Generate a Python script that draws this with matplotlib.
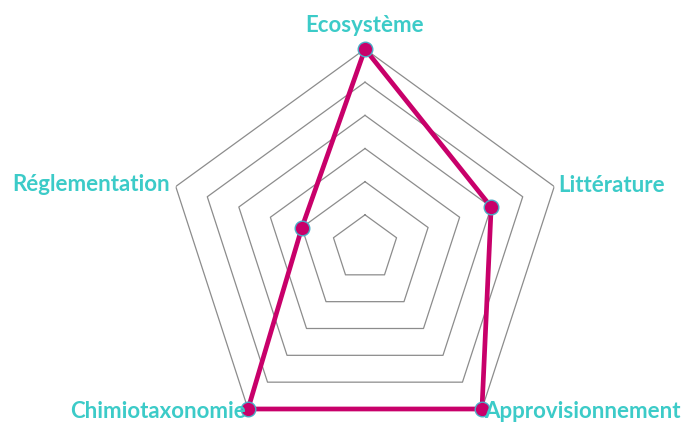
import numpy as np
import matplotlib
matplotlib.use("Agg")
import matplotlib.pyplot as plt

categories = ["Ecosystème", "Littérature", "Approvisionnement", "Chimiotaxonomie", "Réglementation"]
scores = [6, 4, 6, 6, 2]
levels = [1, 2, 3, 4, 5, 6]

# label placement: (radius, horizontal alignment) per category
label_r = [6.72, 6.12, 6.11, 6.1, 6.18]
label_ha = ["center", "left", "left", "right", "right"]

line_col = "#C8006A"
text_col = "#3CCBC8"
grid_col = "#8C8C8C"


def main():
    plt.rcParams['font.family'] = ['Lato', 'DejaVu Sans']
    fig = plt.figure(figsize=(6.82, 4.24), dpi=100)

    # centre at (365, 248) px, outer ring radius 199 px
    cx, cy, R = 365, 248, 199
    W, H = 682, 424
    ax = fig.add_axes([(cx - R) / W, (H - cy - R) / H, 2 * R / W, 2 * R / H],
                      projection='polar')

    n = len(categories)
    theta = np.pi / 2 - np.arange(n) * 2 * np.pi / n
    theta_c = np.append(theta, theta[0])

    # pentagon grid
    for lv in levels:
        ax.plot(theta_c, [lv] * (n + 1), color=grid_col, lw=0.9, zorder=1)

    vals = np.append(scores, scores[0])
    ax.plot(theta_c, vals, color=line_col, lw=3.4, zorder=3, solid_joinstyle='miter')
    ax.plot(theta, scores, 'o', color=line_col, markersize=10.5,
            markeredgecolor='#4BACC6', markeredgewidth=1.0, zorder=4, clip_on=False)

    for t, lab, r, ha in zip(theta, categories, label_r, label_ha):
        ax.text(t, r, lab, ha=ha, va='center', color=text_col,
                fontsize=16, fontweight='bold', zorder=5)

    ax.set_ylim(0, 6)
    ax.grid(False)
    ax.set_xticks([])
    ax.set_yticks([])
    ax.spines['polar'].set_visible(False)
    ax.patch.set_visible(False)

    fig.savefig('out.png', dpi=100)
    plt.close(fig)


if __name__ == "__main__":
    main()
